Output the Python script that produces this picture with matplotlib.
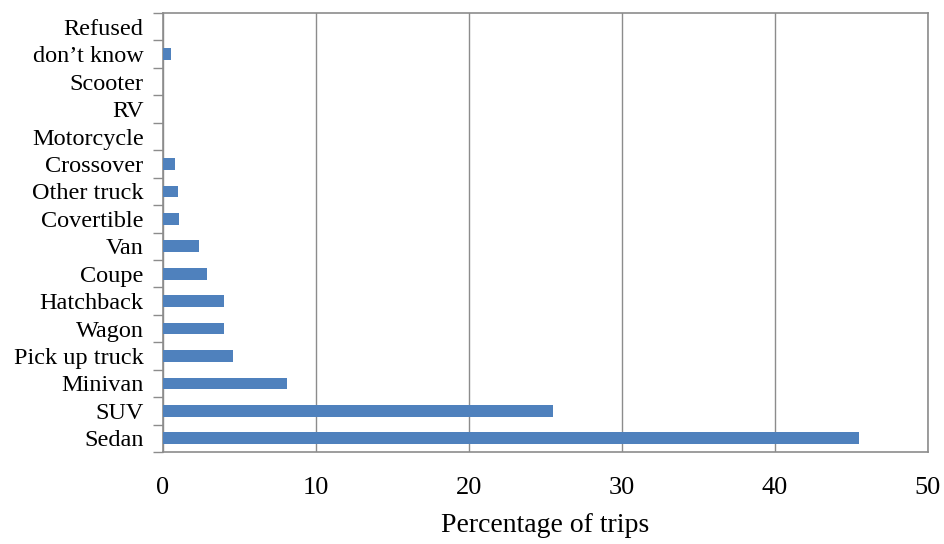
import numpy as np
import matplotlib
matplotlib.use('Agg')
import matplotlib.pyplot as plt

# Vehicle types, bottom to top
categories = ['Sedan', 'SUV', 'Minivan', 'Pick up truck', 'Wagon', 'Hatchback',
              'Coupe', 'Van', 'Covertible', 'Other truck', 'Crossover',
              'Motorcycle', 'RV', 'Scooter', 'don\u2019t know', 'Refused']
percent = [45.5, 25.5, 8.1, 4.55, 3.97, 3.97, 2.85, 2.33, 1.07, 0.98, 0.8,
           0.0, 0.0, 0.0, 0.54, 0.0]
xticks = [0, 10, 20, 30, 40, 50]

plt.rcParams['font.family'] = ['Liberation Serif', 'DejaVu Serif']

fig = plt.figure(figsize=(9.45, 5.44), dpi=100)
ax = fig.add_axes([0.1725, 0.169, 0.8095, 0.807])

y = np.arange(len(categories))
ax.barh(y, percent, height=0.43, color='#4F81BD', zorder=3)

ax.set_xlim(0, 50)
ax.set_ylim(-0.5, len(categories) - 0.5)

# vertical gridlines
ax.set_xticks(xticks)
ax.set_xticklabels([str(t) for t in xticks], fontsize=19)
ax.xaxis.grid(True, color='#8c8c8c', linewidth=1.0, zorder=0)
ax.tick_params(axis='x', length=0, pad=18)

# category labels centred on bars, tick marks on category boundaries
ax.set_yticks(y)
ax.set_yticklabels(categories, fontsize=17.5)
ax.tick_params(axis='y', which='major', length=0, pad=14)
ax.set_yticks(np.arange(-0.5, len(categories), 1.0), minor=True)
ax.tick_params(axis='y', which='minor', length=7, width=1.0, color='#8c8c8c',
               direction='out')

for s in ax.spines.values():
    s.set_color('#8c8c8c')
    s.set_linewidth(1.2)

ax.set_xlabel('Percentage of trips', fontsize=20, labelpad=10)

fig.savefig('out.png', dpi=100)
